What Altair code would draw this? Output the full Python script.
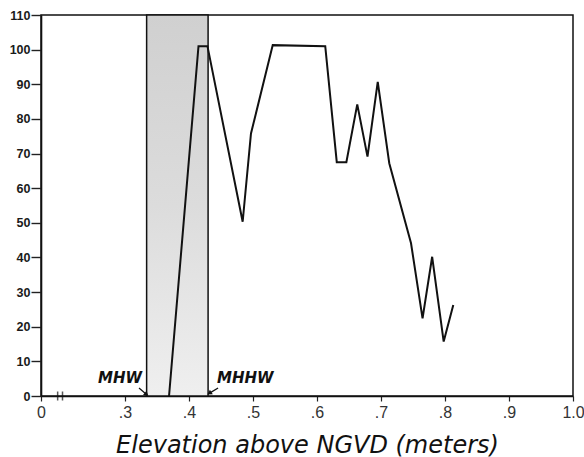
import altair as alt
import pandas as pd

# ---- data ----
elevation = [0.369, 0.415, 0.429, 0.484, 0.497, 0.531, 0.613, 0.631, 0.646,
             0.663, 0.679, 0.695, 0.713, 0.747, 0.765, 0.780, 0.798, 0.813]
percent = [0, 101, 101, 50.3, 75.8, 101.3, 101, 67.5, 67.5,
           84.2, 69.1, 90.7, 67.2, 44.1, 22.4, 40.2, 15.7, 26.3]

x_zero_pos = 0.169          # where the broken axis shows "0"
x_ticks = [0.169, 0.3, 0.4, 0.5, 0.6, 0.7, 0.8, 0.9, 1.0]
y_ticks = [0, 10, 20, 30, 40, 50, 60, 70, 80, 90, 100, 110]
axis_break = [0.195, 0.2026]

band_lo = [0.334]   # MHW
band_hi = [0.430]   # MHHW

tide_labels = ["MHW", "MHHW"]
tide_label_x = [0.327, 0.444]
tide_label_y = [3.75, 3.75]
arrow_x0 = [0.3221, 0.4456]
arrow_y0 = [2.3, 2.3]
arrow_x1 = [0.333, 0.433]
arrow_y1 = [0.6, 0.9]
arrow_angle = [130, 238]

# ---- tables ----
line_df = pd.DataFrame({"x": elevation, "y": percent})
band_df = pd.DataFrame({"x": band_lo, "x2": band_hi, "y": [0], "y2": [110]})
brk_df = pd.DataFrame({"x": axis_break, "y": [0, 0]})
lab_df = pd.DataFrame({"x": tide_label_x, "y": tide_label_y, "t": tide_labels})
arr_df = pd.DataFrame({"x": arrow_x0, "y": arrow_y0, "x2": arrow_x1, "y2": arrow_y1,
                       "ang": arrow_angle})

xscale = alt.Scale(domain=[x_zero_pos, 1.0], nice=False, zero=False)
yscale = alt.Scale(domain=[0, 110], nice=False)

x_axis = alt.Axis(
    values=x_ticks,
    labelExpr="datum.value < 0.2 ? '0' : replace(format(datum.value, '.1f'), '0.', '.')",
    title="Elevation above NGVD (meters)",
    titleBaseline="alphabetic", titleY=56, titleX=266, titleAlign="center",
)
y_axis = alt.Axis(values=y_ticks, title=None)


def X(field):
    return alt.X(field, type="quantitative", scale=xscale, axis=x_axis)


def Y(field):
    return alt.Y(field, type="quantitative", scale=yscale, axis=y_axis)


band = alt.Chart(band_df).mark_rect(
    color=alt.Gradient(
        gradient="linear", x1=0, x2=0, y1=0, y2=1,
        stops=[alt.GradientStop(color="#d0d0d0", offset=0),
               alt.GradientStop(color="#dcdcdc", offset=0.5),
               alt.GradientStop(color="#efefef", offset=1)],
    ),
    stroke="#111", strokeWidth=1.5,
).encode(x=X("x"), x2="x2:Q", y=Y("y"), y2="y2:Q")

line = alt.Chart(line_df).mark_line(color="#111", strokeWidth=2).encode(
    x=X("x"), y=Y("y"),
)

brk = alt.Chart(brk_df).mark_tick(
    color="#111", orient="vertical", size=9, thickness=1.5
).encode(x=X("x"), y=Y("y"))

text_style = dict(font="DejaVu Sans", fontWeight="bold", fontStyle="italic",
                  fontSize=15, baseline="alphabetic", color="#111")
label_mhw = alt.Chart(lab_df).transform_filter("datum.t == 'MHW'").mark_text(
    align="right", **text_style
).encode(x=X("x"), y=Y("y"), text="t:N")
label_mhhw = alt.Chart(lab_df).transform_filter("datum.t == 'MHHW'").mark_text(
    align="left", **text_style
).encode(x=X("x"), y=Y("y"), text="t:N")

arrows = alt.Chart(arr_df).mark_rule(color="#111", strokeWidth=1.3).encode(
    x=X("x"), y=Y("y"), x2="x2:Q", y2="y2:Q",
)
heads = alt.Chart(arr_df).mark_point(
    shape="triangle", filled=True, color="#111", size=30, opacity=1
).encode(
    x=X("x2"), y=Y("y2"),
    angle=alt.Angle("ang:Q", scale=None),
)

chart = alt.layer(band, line, brk, arrows, heads, label_mhw, label_mhhw).properties(
    width=532, height=381,
    autosize=alt.AutoSizeParams(type="none"),
    padding={"left": 41, "top": 15, "right": 11, "bottom": 61},
    background="white",
).configure_view(
    stroke="#111", strokeWidth=1.5
).configure_axis(
    grid=False, domainColor="#111", domainWidth=1.6, tickColor="#222",
    labelOverlap=False, labelFlush=False,
).configure_axisX(
    titleFont="DejaVu Sans", titleFontStyle="italic", titleFontWeight="normal",
    titleFontSize=24, titleColor="#111",
    labelFont="Liberation Sans", labelFontSize=16, labelColor="#333",
    labelPadding=3, tickSize=5, tickWidth=1.2,
).configure_axisY(
    labelFont="Liberation Sans", labelFontWeight="bold", labelFontSize=12.5,
    labelColor="#1a1a1a", labelPadding=1, tickSize=10, tickWidth=1.4,
)

chart.save("out.html", embed_options={"renderer": "svg", "actions": False})
